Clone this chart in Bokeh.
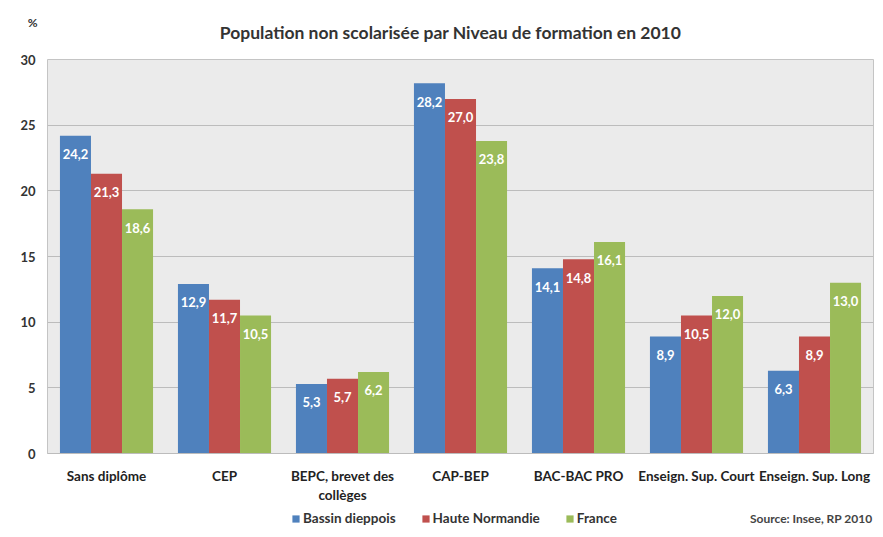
from bokeh.plotting import figure
from bokeh.layouts import column
from bokeh.models import ColumnDataSource, FactorRange, Legend, LegendItem, FixedTicker
from bokeh.core.properties import value
from bokeh.transform import dodge
from bokeh.embed import file_html
from bokeh.resources import INLINE

categories = ["Sans diplôme", "CEP", "BEPC, brevet des\ncollèges", "CAP-BEP",
              "BAC-BAC PRO", "Enseign. Sup. Court", "Enseign. Sup. Long"]
series_names = ["Bassin dieppois", "Haute Normandie", "France"]
bassin = [24.2, 12.9, 5.3, 28.2, 14.1, 8.9, 6.3]
haute_normandie = [21.3, 11.7, 5.7, 27.0, 14.8, 10.5, 8.9]
france = [18.6, 10.5, 6.2, 23.8, 16.1, 12.0, 13.0]
y_ticks = [0, 5, 10, 15, 20, 25, 30]
title_text = "Population non scolarisée par Niveau de formation en 2010"
unit_text = "%"
source_text = "Source: Insee, RP 2010"

colors = ["#4f81bd", "#c0504d", "#9bbb59"]
FONT = "Lato"
W = 883
LEFT, RIGHT = 47, 10
TOP_H, MAIN_H, BOT_H = 51, 454, 32
BAR_W = 0.263
LABEL_DROP = 1.4  # data units below bar top (~18px)


def bare(h):
    # strip whose x data units equal page pixels (frame aligned with main chart)
    f = figure(width=W, height=h, x_range=(LEFT, W - RIGHT), y_range=(0, h),
               output_backend="svg", toolbar_location=None,
               min_border_left=LEFT, min_border_right=RIGHT,
               min_border_top=0, min_border_bottom=0)
    f.xaxis.visible = False
    f.grid.visible = False
    f.outline_line_color = None
    f.background_fill_color = "white"
    f.border_fill_color = "white"
    f.yaxis.axis_line_color = None
    f.yaxis.major_tick_line_color = None
    f.yaxis.minor_tick_line_color = None
    f.yaxis.major_tick_out = 0
    f.yaxis.major_tick_in = 0
    return f


# ---- top strip: title, and the unit of the y axis shown as the strip's axis label
top = bare(TOP_H)
unit_y = TOP_H - 22
top.yaxis.ticker = FixedTicker(ticks=[unit_y])
top.yaxis.major_label_overrides = {unit_y: unit_text}
top.yaxis.major_label_text_font_size = "12px"
top.yaxis.major_label_text_font_style = "bold"
top.yaxis.major_label_text_color = "#333333"
top.yaxis.major_label_text_font = FONT
top.yaxis.major_label_standoff = 10
top.text(x=[450], y=[TOP_H - 32], text=[title_text], text_align="center",
         text_baseline="middle", text_font_size="17.5px", text_font_style="bold",
         text_color="#333333", text_font=value(FONT))

# ---- main chart
p = figure(x_range=FactorRange(factors=categories, range_padding=0, factor_padding=0),
           y_range=(0, 30), width=W, height=MAIN_H,
           output_backend="svg", toolbar_location=None,
           min_border_left=LEFT, min_border_right=RIGHT, min_border_top=8, min_border_bottom=52)

p.background_fill_color = "#ebebeb"
p.border_fill_color = "white"
p.outline_line_color = "#c4c4c4"
p.xgrid.grid_line_color = None
p.ygrid.grid_line_color = "#bcbcbc"
p.ygrid.ticker = FixedTicker(ticks=y_ticks)

for i, (name, vals) in enumerate(zip(series_names, [bassin, haute_normandie, france])):
    off = (i - 1) * BAR_W
    src = ColumnDataSource(dict(
        cat=categories, val=vals,
        ly=[v - LABEL_DROP for v in vals],
        txt=[f"{v:.1f}".replace(".", ",") for v in vals]))
    p.vbar(x=dodge("cat", off, range=p.x_range), top="val", width=BAR_W,
           source=src, fill_color=colors[i], line_color=None)
    p.text(x=dodge("cat", off, range=p.x_range), y="ly", text="txt", source=src,
           text_color="white", text_font_size="13px", text_font_style="bold",
           text_align="center", text_baseline="middle", text_font=value(FONT))

p.yaxis.ticker = FixedTicker(ticks=y_ticks)
p.yaxis.axis_line_color = None
p.yaxis.major_tick_line_color = None
p.yaxis.minor_tick_line_color = None
p.yaxis.major_tick_out = 0
p.yaxis.major_tick_in = 0
p.yaxis.major_label_text_font_size = "13px"
p.yaxis.major_label_text_font_style = "bold"
p.yaxis.major_label_text_color = "#333333"
p.yaxis.major_label_text_font = FONT
p.yaxis.major_label_standoff = 12

p.xaxis.axis_line_color = "#bcbcbc"
p.xaxis.major_tick_line_color = None
p.xaxis.major_tick_out = 0
p.xaxis.major_tick_in = 0
p.xaxis.major_label_text_font_size = "13.5px"
p.xaxis.major_label_text_font_style = "bold"
p.xaxis.major_label_text_color = "#222222"
p.xaxis.major_label_text_font = FONT
p.xaxis.major_label_standoff = 14

# ---- bottom strip: legend and source
bot = bare(BOT_H)
bot.yaxis.visible = False
items = []
for name, c in zip(series_names, colors):
    r = bot.vbar(x=[-100], top=[-100], bottom=[-101], width=1, fill_color=c, line_color=None)
    items.append(LegendItem(label=name, renderers=[r]))
legend = Legend(items=items, orientation="horizontal", location=(244, 11),
                glyph_width=9, glyph_height=9, label_standoff=3, spacing=25,
                label_text_font_size="13.5px", label_text_font_style="bold",
                label_text_color="#333333", label_text_font=FONT,
                border_line_color=None, background_fill_alpha=0,
                margin=0, padding=4)
bot.add_layout(legend, "center")
bot.text(x=[W - RIGHT], y=[BOT_H - 13], text=[source_text], text_align="right",
         text_baseline="middle", text_font_size="12px", text_font_style="bold",
         text_color="#444444", text_font=value(FONT), x_offset=-1)

layout = column(top, p, bot, spacing=0)
open("out.html", "w").write(file_html(layout, INLINE))
